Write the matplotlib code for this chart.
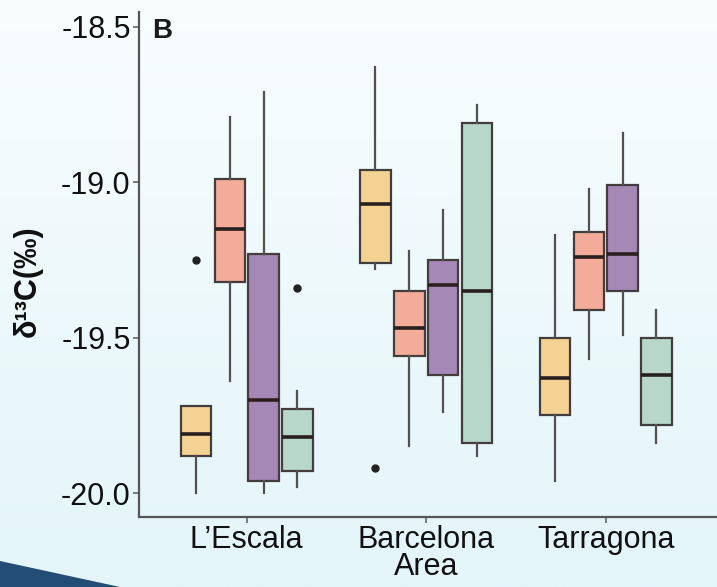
import numpy as np
import matplotlib
matplotlib.use("Agg")
import matplotlib.pyplot as plt
from matplotlib.patches import Polygon

# ---- data ----
sites = ["L\u2019Escala", "Barcelona\nArea", "Tarragona"]
groups = ["G1", "G2", "G3", "G4"]
colors = ["#F3D293", "#F4AC9A", "#A688B6", "#B6D7C9"]

# per site, per group (4 groups)
whislo = [[-20.00, -19.64, -20.00, -19.98],
          [-19.28, -19.85, -19.74, -19.88],
          [-19.96, -19.57, -19.49, -19.84]]
q1 = [[-19.88, -19.32, -19.96, -19.93],
      [-19.26, -19.56, -19.62, -19.84],
      [-19.75, -19.41, -19.35, -19.78]]
med = [[-19.81, -19.15, -19.70, -19.82],
       [-19.07, -19.47, -19.33, -19.35],
       [-19.63, -19.24, -19.23, -19.62]]
q3 = [[-19.72, -18.99, -19.23, -19.73],
      [-18.96, -19.35, -19.25, -18.81],
      [-19.50, -19.16, -19.01, -19.50]]
whishi = [[-19.72, -18.79, -18.71, -19.67],
          [-18.63, -19.22, -19.09, -18.75],
          [-19.17, -19.02, -18.84, -19.41]]
fliers = [[[-19.25], [], [], [-19.34]],
          [[-19.92], [], [], []],
          [[], [], [], []]]

yticks = [-20.0, -19.5, -19.0, -18.5]

W, H = 717, 587
fig = plt.figure(figsize=(W / 100, H / 100), dpi=100)

# background gradient
bg = fig.add_axes([0, 0, 1, 1], zorder=-10)
grad = np.linspace(0, 1, 256).reshape(-1, 1)
top = np.array(matplotlib.colors.to_rgb("#F8FDFE"))
bot = np.array(matplotlib.colors.to_rgb("#E3F5F9"))
img = top[None, None, :] * (1 - grad[:, :, None]) + bot[None, None, :] * grad[:, :, None]
bg.imshow(img, aspect="auto", extent=[0, 1, 0, 1], origin="upper")
bg.add_patch(Polygon([[0, 0], [0, 1 - 561 / H], [120 / W, 0]], closed=True,
                     facecolor="#234D74", edgecolor="none"))
bg.set_xlim(0, 1)
bg.set_ylim(0, 1)
bg.axis("off")

ax = fig.add_axes([139 / W, 1 - 517 / H, 1 - 139 / W + 0.01, (517 - 12) / H])
ax.patch.set_alpha(0)

offsets = [-0.2825, -0.094, 0.094, 0.2825]
bw = 0.17
edge = "#433D3D"
for si in range(len(sites)):
    for gi in range(len(groups)):
        st = dict(med=med[si][gi], q1=q1[si][gi], q3=q3[si][gi],
                  whislo=whislo[si][gi], whishi=whishi[si][gi],
                  fliers=fliers[si][gi])
        ax.bxp([st], positions=[si + 1 + offsets[gi]], widths=bw,
               patch_artist=True, showcaps=False,
               boxprops=dict(facecolor=colors[gi], edgecolor=edge, linewidth=1.6),
               medianprops=dict(color="#2A1F1F", linewidth=2.6),
               whiskerprops=dict(color="#555050", linewidth=1.6),
               flierprops=dict(marker="o", markersize=5, markerfacecolor="#222222",
                               markeredgecolor="#222222"),
               manage_ticks=False)

ax.set_xlim(0.4, 3.6 + 0.06)
ax.set_ylim(-20.077, -18.452)
ax.set_xticks([1, 2, 3])
ax.set_xticklabels(sites, fontsize=22, family="Liberation Sans", linespacing=0.85)
ax.set_yticks(yticks)
ax.set_yticklabels([f"{v:.1f}" for v in yticks], fontsize=22, family="Liberation Sans")
for s in ["top", "right"]:
    ax.spines[s].set_visible(False)
for s in ["left", "bottom"]:
    ax.spines[s].set_color("#555555")
    ax.spines[s].set_linewidth(1.6)
ax.tick_params(axis="both", length=4, width=1.2, color="#666666", pad=2, labelcolor="#111111")

fig.text(28 / W, 1 - 281 / H, "\u03b4\u00b9\u00b3C(\u2030)", rotation=90,
         fontsize=22, fontweight="bold", family="Liberation Sans",
         ha="center", va="center", color="#111111")
ax.text(0.022, 0.988, "B", transform=ax.transAxes, fontsize=20, fontweight="bold",
        family="Liberation Sans", va="top", ha="left", color="#1a1a1a")

fig.savefig("out.png", dpi=100)
